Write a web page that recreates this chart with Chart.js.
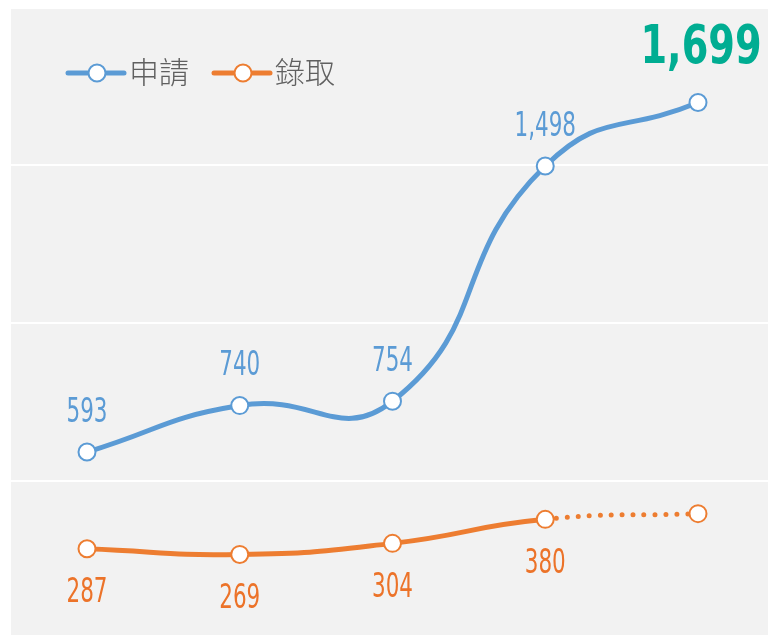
<!DOCTYPE html>
<html>
<head>
<meta charset="utf-8">
<script src="https://cdn.jsdelivr.net/npm/chart.js@4"></script>
<style>
  html, body { margin:0; padding:0; background:#fff; }
  #wrap { width:768px; height:635px; }
</style>
</head>
<body>
<div id="wrap"><canvas id="trendChart" width="768" height="635"></canvas></div>
<script>
/* ===== DATA ===== */
const years      = ['1', '2', '3', '4', '5'];
const applied    = [593, 740, 754, 1498, 1699];   // 申請
const admitted   = [287, 269, 304, 380, 398];     // 錄取 (last point projected)
const seriesNames = ['申請', '錄取'];
const gridValues = [500, 1000, 1500];
const projectedIndex = 4;

const BLUE = '#5b9bd5', ORANGE = '#ed7d31', TEAL = '#00ad92', GREY_TXT = '#606060';
const NUM_FONT = "'Liberation Sans Narrow', 'DejaVu Sans Condensed', 'Roboto', sans-serif";

/* ===== PLUGINS ===== */
const backdrop = {
  id: 'backdrop',
  beforeDraw(chart) {
    const { ctx, width, height } = chart;
    const y = chart.scales.y;
    ctx.save();
    ctx.fillStyle = '#ffffff';
    ctx.fillRect(0, 0, width, height);
    ctx.fillStyle = '#f2f2f2';
    ctx.fillRect(11, 9, width - 11, height - 9);
    ctx.strokeStyle = '#ffffff';
    ctx.lineWidth = 2;
    gridValues.forEach(v => {
      const py = Math.round(y.getPixelForValue(v));
      ctx.beginPath(); ctx.moveTo(11, py); ctx.lineTo(width, py); ctx.stroke();
    });
    ctx.restore();
  }
};

function squeezeText(ctx, text, x, y, factor) {
  const w = ctx.measureText(text).width;
  ctx.fillText(text, x, y, w * factor);
}

const valueLabels = {
  id: 'valueLabels',
  afterDatasetsDraw(chart) {
    const { ctx } = chart;
    ctx.save();
    ctx.textAlign = 'center';
    ctx.textBaseline = 'middle';

    ctx.font = '33px ' + NUM_FONT;
    const f = 41 / ctx.measureText('593').width;

    // 申請 — above
    chart.getDatasetMeta(0).data.forEach((pt, i) => {
      const txt = applied[i].toLocaleString('en-US');
      if (i === applied.length - 1) {
        ctx.font = 'bold 53px ' + NUM_FONT;
        const fb = 121 / ctx.measureText('1,699').width;
        ctx.fillStyle = TEAL;
        squeezeText(ctx, txt, pt.x + 3, pt.y - 53, fb);
        ctx.font = '33px ' + NUM_FONT;
      } else {
        ctx.fillStyle = BLUE;
        squeezeText(ctx, txt, pt.x, pt.y - 39, f);
      }
    });

    // 錄取 — below
    ctx.fillStyle = '#ec7329';
    chart.getDatasetMeta(1).data.forEach((pt, i) => {
      if (i === projectedIndex) return;
      squeezeText(ctx, admitted[i].toLocaleString('en-US'), pt.x, pt.y + 45, f);
    });
    ctx.restore();
  }
};

const legendBox = {
  id: 'legendBox',
  afterDraw(chart) {
    const { ctx } = chart;
    const items = [
      { x: 68, color: BLUE,   label: seriesNames[0] },
      { x: 214, color: ORANGE, label: seriesNames[1] }
    ];
    ctx.save();
    items.forEach(it => {
      const cy = 73;
      ctx.strokeStyle = it.color;
      ctx.lineWidth = 5;
      ctx.lineCap = 'round';
      ctx.beginPath(); ctx.moveTo(it.x, cy); ctx.lineTo(it.x + 56, cy); ctx.stroke();
      ctx.beginPath(); ctx.arc(it.x + 29, cy, 8.5, 0, Math.PI * 2);
      ctx.fillStyle = '#fff'; ctx.fill();
      ctx.lineWidth = 2; ctx.stroke();
      ctx.fillStyle = GREY_TXT;
      ctx.font = "300 30px 'Noto Sans CJK TC', 'Noto Sans CJK SC', sans-serif";
      ctx.textAlign = 'left';
      ctx.textBaseline = 'middle';
      ctx.fillText(it.label, it.x + 61, cy - 1);
    });
    ctx.restore();
  }
};

/* ===== CHART ===== */
const pointStyle = {
  pointRadius: 8.5, pointHoverRadius: 8.5, pointBorderWidth: 2,
  pointBackgroundColor: '#ffffff', borderWidth: 5, tension: 0.5,
  borderCapStyle: 'round', clip: false, fill: false
};

new Chart(document.getElementById('trendChart'), {
  type: 'line',
  data: {
    labels: years,
    datasets: [
      { label: seriesNames[0], data: applied, borderColor: BLUE, pointBorderColor: BLUE, ...pointStyle },
      { label: seriesNames[1], data: admitted, borderColor: ORANGE, pointBorderColor: ORANGE, ...pointStyle,
        segment: { borderDash: c => c.p1DataIndex === projectedIndex ? [0, 11] : undefined } }
    ]
  },
  options: {
    responsive: false,
    animation: false,
    devicePixelRatio: 1,
    layout: { autoPadding: false, padding: { left: 87, right: 70, top: 9, bottom: 0 } },
    plugins: { legend: { display: false }, tooltip: { enabled: false } },
    scales: {
      x: { display: false, offset: false },
      y: { display: false, min: 14, max: 1995 }
    }
  },
  plugins: [backdrop, valueLabels, legendBox]
});
</script>
</body>
</html>
